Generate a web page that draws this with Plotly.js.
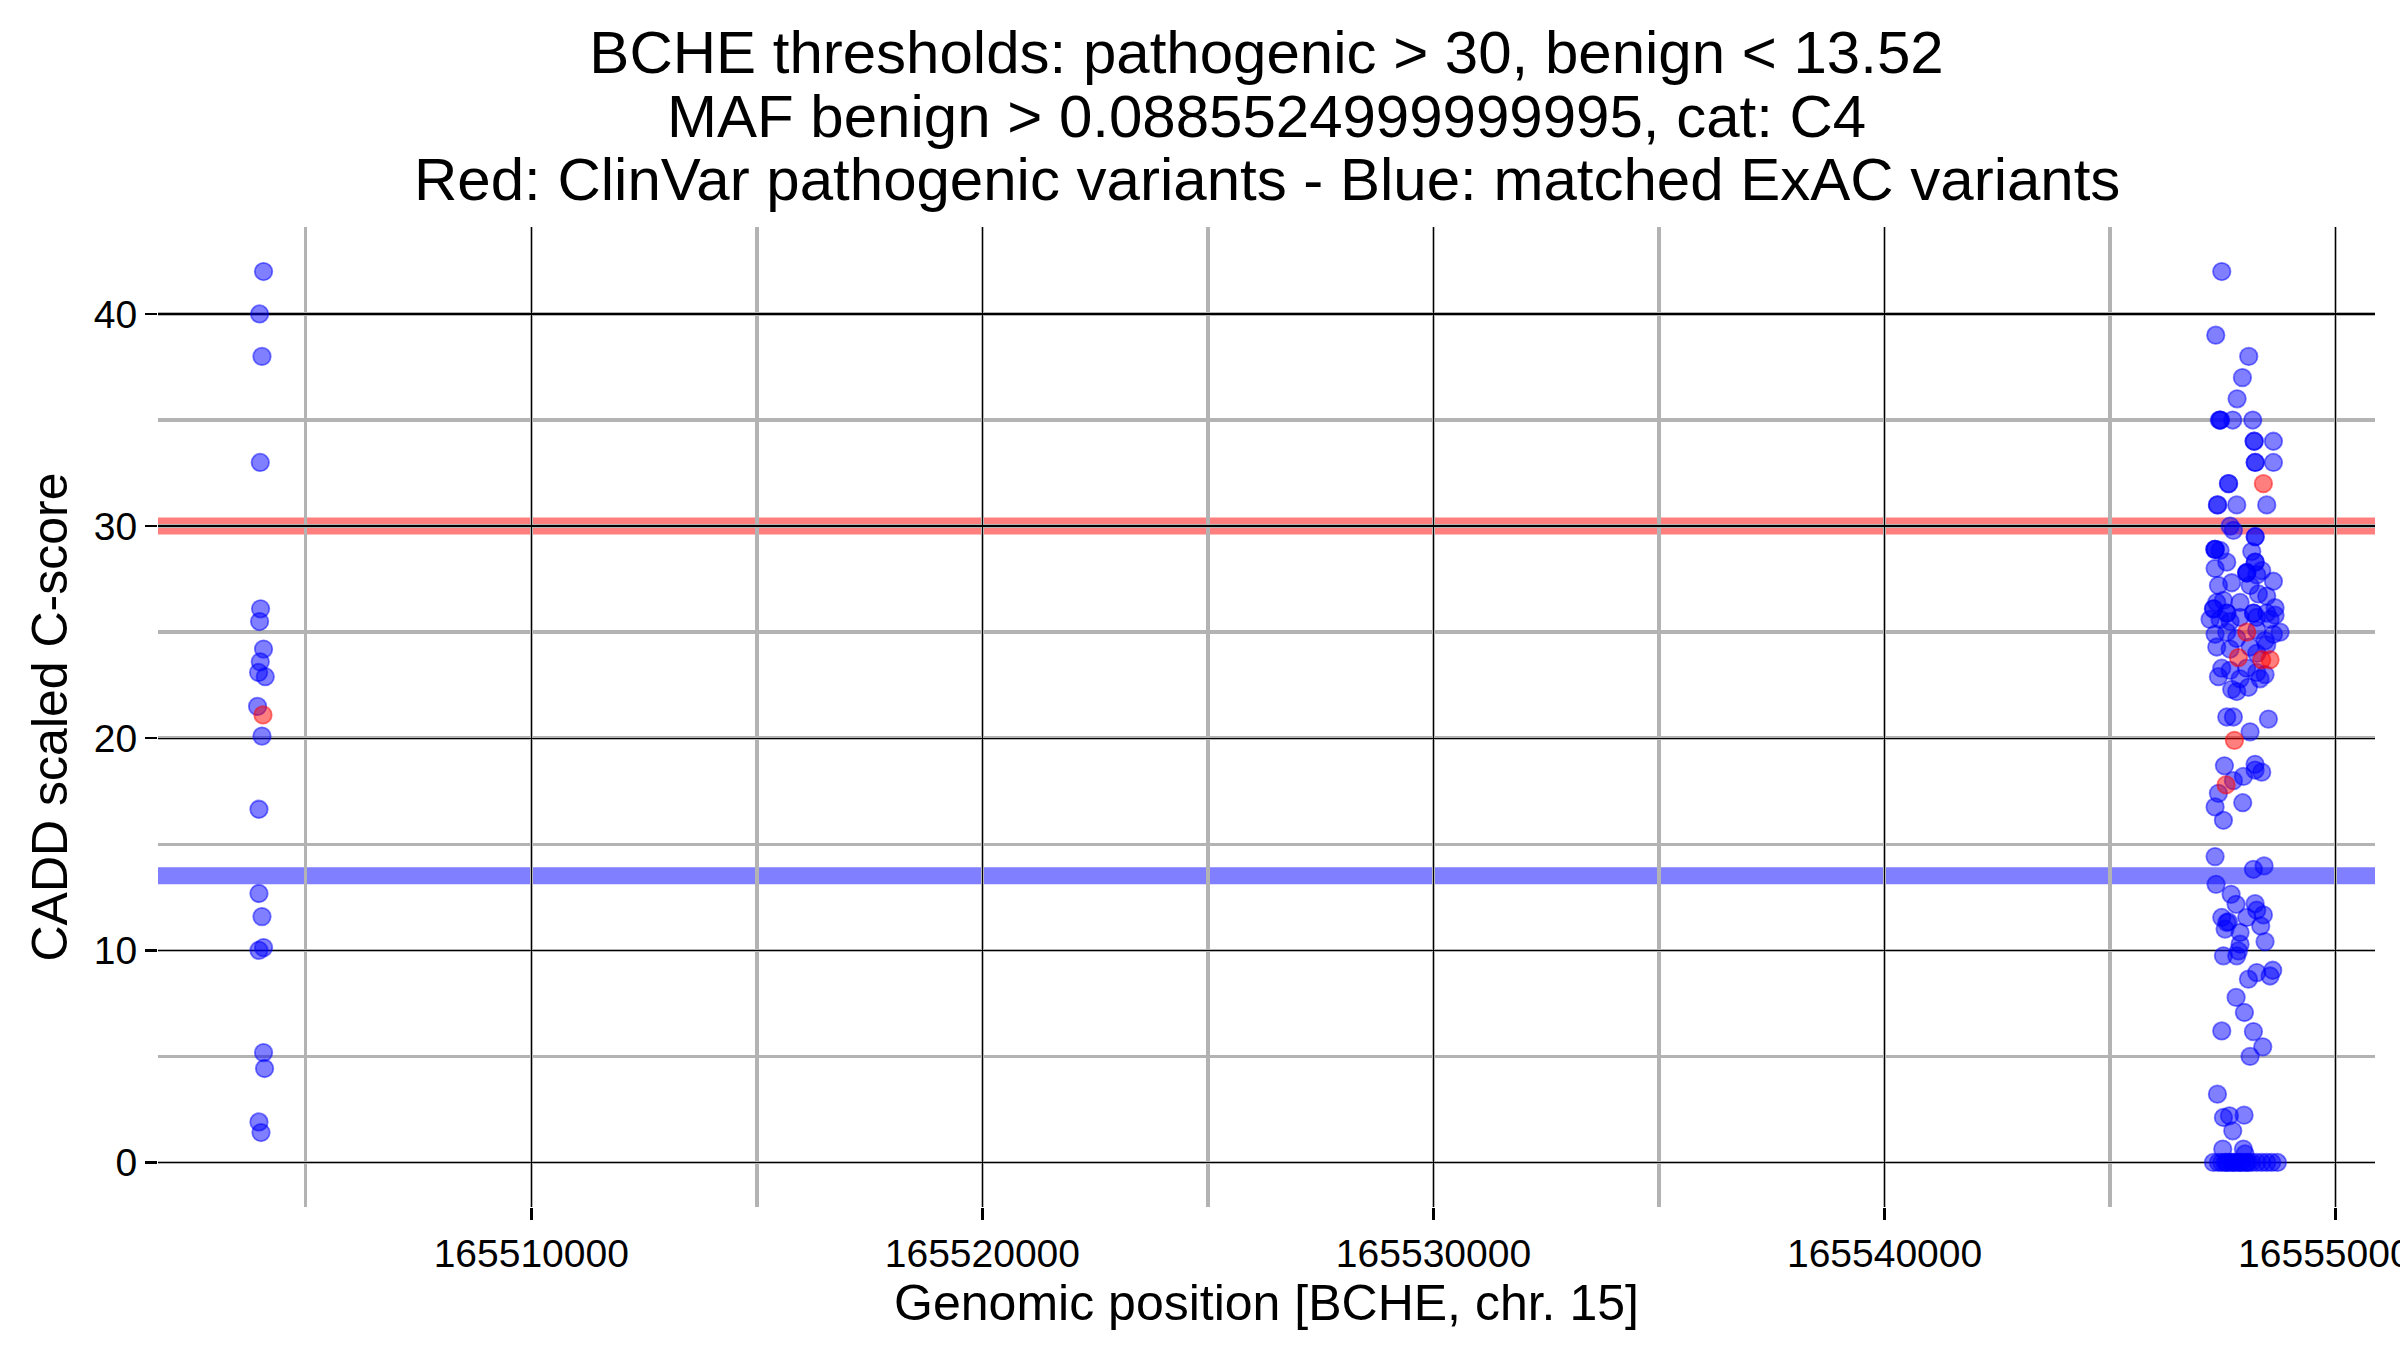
<!DOCTYPE html>
<html>
<head>
<meta charset="utf-8">
<script src="https://cdn.plot.ly/plotly-3.0.1.min.js"></script>
<style>html,body{margin:0;padding:0;background:#fff;}#chart{width:2400px;height:1350px;}</style>
</head>
<body>
<div id="chart"></div>
<script>
// Blue: matched ExAC variants (genomic position, CADD scaled C-score)
const exacPos = [
  // left cluster
  165504066,165503978,165504031,165503993,165504000,165503978,165504066,165503993,165503956,165504104,
  165503933,165504031,165503964,165503964,165504031,165503964,165504066,165504066,165504088,165503964,165504009,
  // right cluster
  165547474,165547341,165548072,165547932,165547814,165547420,165547437,165547450,165547718,165548161,
  165548190,165548195,165548619,165548213,165548218,165548619,165547622,165547627,165547378,165547383,
  165547806,165548471,165547659,165547732,165548213,165548218,165547326,165547331,165547320,165547437,
  165547585,165547326,165548139,165548213,165548218,165548360,165548028,165548033,165548023,165548250,
  165548619,165547695,165547400,165548102,165548287,165548471,165548656,165547363,165547511,165547880,
  165547289,165547294,165547585,165547590,165548176,165548181,165548471,165547215,165547437,165547659,
  165547880,165548250,165548545,165548656,165547326,165547585,165548250,165548619,165548767,165547806,
  165548434,165547363,165548102,165548471,165547659,165548250,165547474,165547659,165548028,165548250,
  165548434,165547400,165547880,165548323,165547695,165548065,165547806,165547585,165547732,165548508,
  165548102,165547533,165548213,165547954,165548360,165548213,165547732,165547400,165547939,165547326,
  165547511,165547326,165548176,165548412,165547348,165547681,165547792,165548213,165548250,165548397,
  165547474,165547585,165547622,165547548,165548028,165548338,165547880,165548434,165547880,165547843,
  165547511,165547806,165548250,165548065,165548545,165548604,165547792,165547976,165547474,165548176,
  165548383,165548102,165547378,165547511,165547644,165547969,165547718,165547496,165547954,165547991,
  165547289,165547400,165547474,165547548,165547622,165547695,165547769,165547843,165547917,165547991,
  165548065,165548139,165548250,165548360,165548471,165548582,165548708,165547585,165547732,165547880,165548028
];
const exacScore = [
  // left cluster
  42.0,40.0,38.0,33.0,26.1,25.5,24.2,23.6,23.1,22.9,
  21.5,20.1,16.65,12.68,11.59,10.0,10.13,5.18,4.43,1.91,1.41,
  // right cluster
  42.0,39.0,38.0,37.0,36.0,35.0,35.0,35.0,35.0,35.0,
  34.0,34.0,34.0,33.0,33.0,33.0,32.0,32.0,31.0,31.0,
  31.0,31.0,30.0,29.8,29.5,29.5,28.9,28.9,28.9,28.85,
  28.3,28.0,28.8,28.3,28.3,27.9,27.8,27.8,27.8,27.7,
  27.4,27.33,27.2,27.2,26.8,26.7,26.15,26.4,26.5,26.4,
  26.1,26.1,25.9,25.9,25.9,25.9,25.9,25.6,25.6,25.5,
  25.7,25.7,25.6,25.8,24.9,25.0,25.1,24.9,25.0,24.7,
  24.6,24.3,24.3,24.4,24.2,24.0,23.3,23.2,23.3,23.1,
  23.0,22.9,22.8,22.8,22.3,22.4,22.2,21.0,21.0,20.9,
  20.3,18.7,18.77,18.2,18.4,18.5,18.0,17.4,16.96,16.76,
  16.13,14.42,13.82,13.98,13.11,12.64,12.17,12.2,11.89,11.67,
  11.55,11.31,11.35,11.0,11.55,11.15,10.84,10.41,10.29,9.97,
  9.74,9.74,8.95,8.64,8.79,9.06,7.78,7.07,6.2,6.17,
  5.45,5.0,3.22,2.12,2.2,2.23,1.49,0.63,0.63,0.4,
  0,0,0,0,0,0,0,0,0,0,
  0,0,0,0,0,0,0,0,0,0,0
];
// Red: ClinVar pathogenic variants
const clinvarPos = [165504053,165548397,165548028,165547843,165548360,165548545,165547755,165547570];
const clinvarScore = [21.1,32.0,25.0,23.8,23.7,23.7,19.9,17.8];
// Thresholds
const pathogenicThreshold = 30;
const benignThreshold = 13.52;
const xTickVals = [165510000,165520000,165530000,165540000,165550000];
const yTickVals = [0,10,20,30,40];
const titleLines = [
  'BCHE thresholds: pathogenic > 30, benign < 13.52',
  'MAF benign > 0.0885524999999995, cat: C4',
  'Red: ClinVar pathogenic variants - Blue: matched ExAC variants'
];

const FONT = 'Liberation Sans, Arial, Helvetica, sans-serif';
const TITLE_SIZE = 60;

const traces = [
  {
    type: 'scatter', mode: 'markers', name: 'ExAC',
    x: exacPos, y: exacScore,
    marker: {size: 17.5, color: 'rgba(0,0,255,0.5)', line: {width: 1.8, color: 'rgba(0,0,255,0.5)'}},
    hoverinfo: 'x+y'
  },
  {
    type: 'scatter', mode: 'markers', name: 'ClinVar',
    x: clinvarPos, y: clinvarScore,
    marker: {size: 17.5, color: 'rgba(255,0,0,0.5)', line: {width: 1.8, color: 'rgba(255,0,0,0.5)'}},
    hoverinfo: 'x+y'
  }
];

const layout = {
  width: 2400, height: 1350,
  paper_bgcolor: '#ffffff', plot_bgcolor: '#ffffff',
  showlegend: false,
  margin: {l: 158, r: 25, t: 227, b: 143, pad: 0},
  font: {family: FONT, color: '#000000', size: 38},
  title: {
    text: titleLines[0],
    font: {family: FONT, size: TITLE_SIZE, color: '#000000'},
    x: 0.5, xref: 'paper', xanchor: 'center',
    y: 1 - 52 / 1350, yref: 'container', yanchor: 'middle'
  },
  annotations: [
    {text: titleLines[1], xref: 'paper', yref: 'paper', x: 0.5, y: 1 + (227 - 116) / 980,
     xanchor: 'center', yanchor: 'middle', showarrow: false,
     font: {family: FONT, size: TITLE_SIZE, color: '#000000'}},
    {text: titleLines[2], xref: 'paper', yref: 'paper', x: 0.5, y: 1 + (227 - 180) / 980,
     xanchor: 'center', yanchor: 'middle', showarrow: false,
     font: {family: FONT, size: TITLE_SIZE, color: '#000000'}}
  ],
  xaxis: {
    range: [165501726, 165550871],
    tickmode: 'array', tickvals: xTickVals, ticktext: xTickVals.map(String),
    showgrid: true, gridcolor: '#000000', gridwidth: 1.3,
    minor: {tickmode: 'linear', tick0: 165500000, dtick: 5000, showgrid: true, gridcolor: '#b3b3b3', gridwidth: 3.5, ticks: ''},
    zeroline: false, showline: false,
    ticks: 'outside', ticklen: 12, tickwidth: 2.5, tickcolor: '#000000',
    tickfont: {family: FONT, size: 39, color: '#000000'},
    ticklabeloverflow: 'allow',
    automargin: false,
    title: {text: 'Genomic position [BCHE, chr. 15]', font: {family: FONT, size: 50, color: '#000000'}, standoff: 8}
  },
  yaxis: {
    range: [-2.1, 44.1],
    tickmode: 'array', tickvals: yTickVals, ticktext: yTickVals.map(String),
    showgrid: true, gridcolor: '#000000', gridwidth: 1.3,
    minor: {tickmode: 'linear', tick0: 0, dtick: 5, showgrid: true, gridcolor: '#b3b3b3', gridwidth: 3.5, ticks: ''},
    zeroline: false, showline: false,
    ticks: 'outside', ticklen: 12, tickwidth: 2.5, tickcolor: '#000000',
    tickfont: {family: FONT, size: 39, color: '#000000'},
    automargin: false,
    title: {text: 'CADD scaled C-score', font: {family: FONT, size: 50, color: '#000000'}, standoff: 10}
  },
  shapes: [
    {type: 'line', xref: 'paper', x0: 0, x1: 1, yref: 'y', y0: pathogenicThreshold, y1: pathogenicThreshold,
     line: {color: 'rgba(255,0,0,0.5)', width: 17}, layer: 'between'},
    {type: 'line', xref: 'paper', x0: 0, x1: 1, yref: 'y', y0: benignThreshold, y1: benignThreshold,
     line: {color: 'rgba(0,0,255,0.5)', width: 17}, layer: 'between'}
  ]
};

Plotly.newPlot('chart', traces, layout, {staticPlot: true, displayModeBar: false});
</script>
</body>
</html>
